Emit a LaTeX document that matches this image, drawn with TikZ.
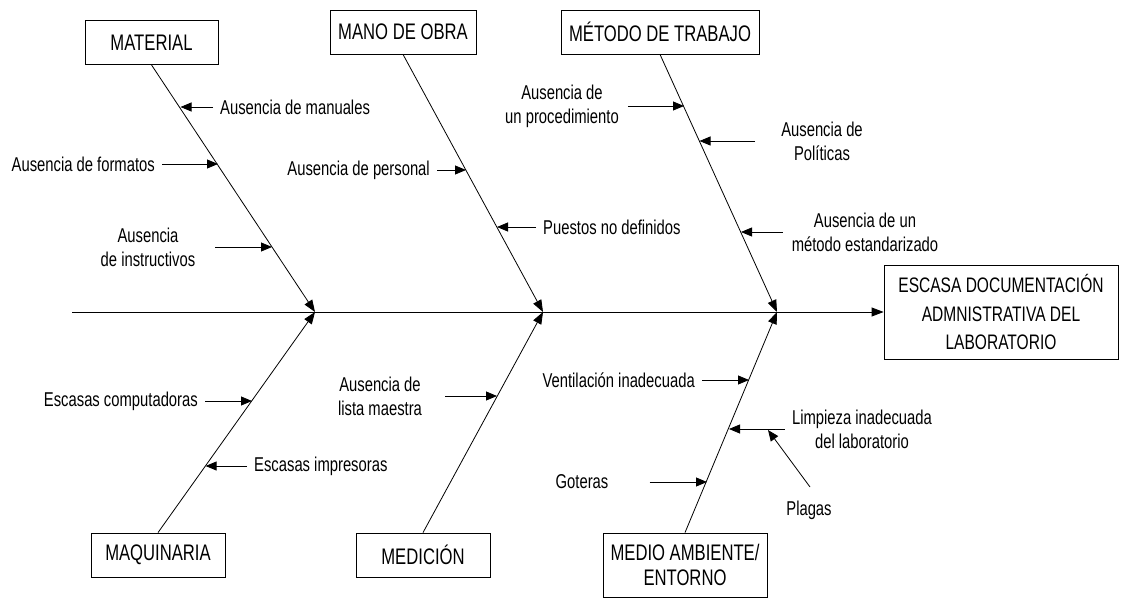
\documentclass[tikz,border=0pt]{standalone}
\usepackage{fontspec}
\setmainfont{Liberation Sans}[FakeStretch=0.74]
\usetikzlibrary{arrows.meta}

\begin{document}
\begin{tikzpicture}[x=1pt, y=-1pt,
  catbox/.style={draw, line width=0.8pt, minimum height=44pt, inner sep=2pt, font=\fontsize{22.5}{25}\selectfont},
  bone/.style={line width=0.8pt, -{Triangle[length=12pt,width=9pt]}},
  cause/.style={line width=0.8pt, -{Triangle[length=11pt,width=9pt]}, shorten <=7pt},
  lbl/.style={inner sep=0pt, align=center, font=\fontsize{20}{24}\selectfont}]

\useasboundingbox (0,0) rectangle (1128,599);

% categories and effect
\node [catbox, minimum width=133pt] (mat) at (151.5,42.5) {MATERIAL};
\node [catbox, minimum width=146pt] (mano) at (403,32) {MANO DE OBRA};
\node [catbox, minimum width=198pt] (met) at (660,32) {MÉTODO DE TRABAJO};
\node [catbox, minimum width=134pt] (maq) at (158,555) {MAQUINARIA};
\node [catbox, minimum width=134pt] (med) at (423,555) {MEDICIÓN};
\node [catbox, minimum width=164pt, minimum height=64pt, align=center] (amb) at (685,565) {MEDIO AMBIENTE/\\ENTORNO};
\node [catbox, minimum width=234pt, minimum height=94pt, align=center, font=\fontsize{21}{28.5}\selectfont] (eff) at (1001,312) {ESCASA DOCUMENTACIÓN\\ADMNISTRATIVA DEL\\LABORATORIO};

% spine
\coordinate (tail) at (72,312);
\coordinate (j1) at (315,312);
\coordinate (j2) at (543,312);
\coordinate (j3) at (777,312);
\draw [bone] (tail) -- (eff.west);

\draw [bone] (mat.south) -- (j1);
\draw [bone] (mano.south) -- (j2);
\draw [bone] (met.south) -- (j3);
\draw [bone] (maq.north) -- (j1);
\draw [bone] (med.north) -- (j2);
\draw [bone] (amb.north) -- (j3);

% material
\coordinate (t1) at (180.5,107);
\node [lbl, anchor=west] (l1) at (220,107) {Ausencia de manuales};
\draw [cause] (l1) -- (t1);
\coordinate (t2) at (218,164);
\node [lbl, anchor=east] (l2) at (155,164) {Ausencia de formatos};
\draw [cause] (l2) -- (t2);
\coordinate (t3) at (272,247);
\node [lbl] (l3) at (148,247) {Ausencia\\de instructivos};
\draw [cause, shorten <=20pt] (l3) -- (t3);

% mano de obra
\coordinate (t4) at (466,170);
\node [lbl, anchor=east] (l4) at (430,170) {Ausencia de personal};
\draw [cause] (l4) -- (t4);
\coordinate (t5) at (497,227);
\node [lbl, anchor=west] (l5) at (543,227) {Puestos no definidos};
\draw [cause] (l5) -- (t5);

% metodo de trabajo
\coordinate (t6) at (684,106);
\node [lbl] (l6) at (562,106) {Ausencia de\\un procedimiento};
\draw [cause, shorten <=9pt] (l6) -- (t6);
\coordinate (t7) at (699.5,141);
\node [lbl] (l7) at (822,141) {Ausencia de\\Políticas};
\draw [cause, shorten <=26pt] (l7) -- (t7);
\coordinate (t8) at (741,232);
\node [lbl] (l8) at (865,232) {Ausencia de un\\método estandarizado};
\draw [cause, shorten <=9pt] (l8) -- (t8);

% maquinaria
\coordinate (t9) at (252,401);
\node [lbl, anchor=east] (l9) at (198,401) {Escasas computadoras};
\draw [cause] (l9) -- (t9);
\coordinate (t10) at (205.6,466);
\node [lbl, anchor=west] (l10) at (254,466) {Escasas impresoras};
\draw [cause] (l10) -- (t10);

% medicion
\coordinate (t11) at (497,396);
\node [lbl] (l11) at (380,396) {Ausencia de\\lista maestra};
\draw [cause, shorten <=23pt] (l11) -- (t11);

% medio ambiente
\coordinate (t12) at (749,380);
\node [lbl, anchor=east] (l12) at (695,380) {Ventilación inadecuada};
\draw [cause] (l12) -- (t12);
\coordinate (t13) at (729,429);
\node [lbl] (l13) at (862,429) {Limpieza inadecuada\\del laboratorio};
\draw [cause] (l13) -- (t13);
\coordinate (t14) at (707,482);
\node [lbl] (l14) at (582,482) {Goteras};
\draw [cause, shorten <=41pt] (l14) -- (t14);
\node [lbl] (l15) at (809,510) {Plagas};
\coordinate (s15) at (810,487);
\coordinate (t15) at (768,430);
\draw [cause, shorten <=0pt] (s15) -- (t15);

\end{tikzpicture}
\end{document}
